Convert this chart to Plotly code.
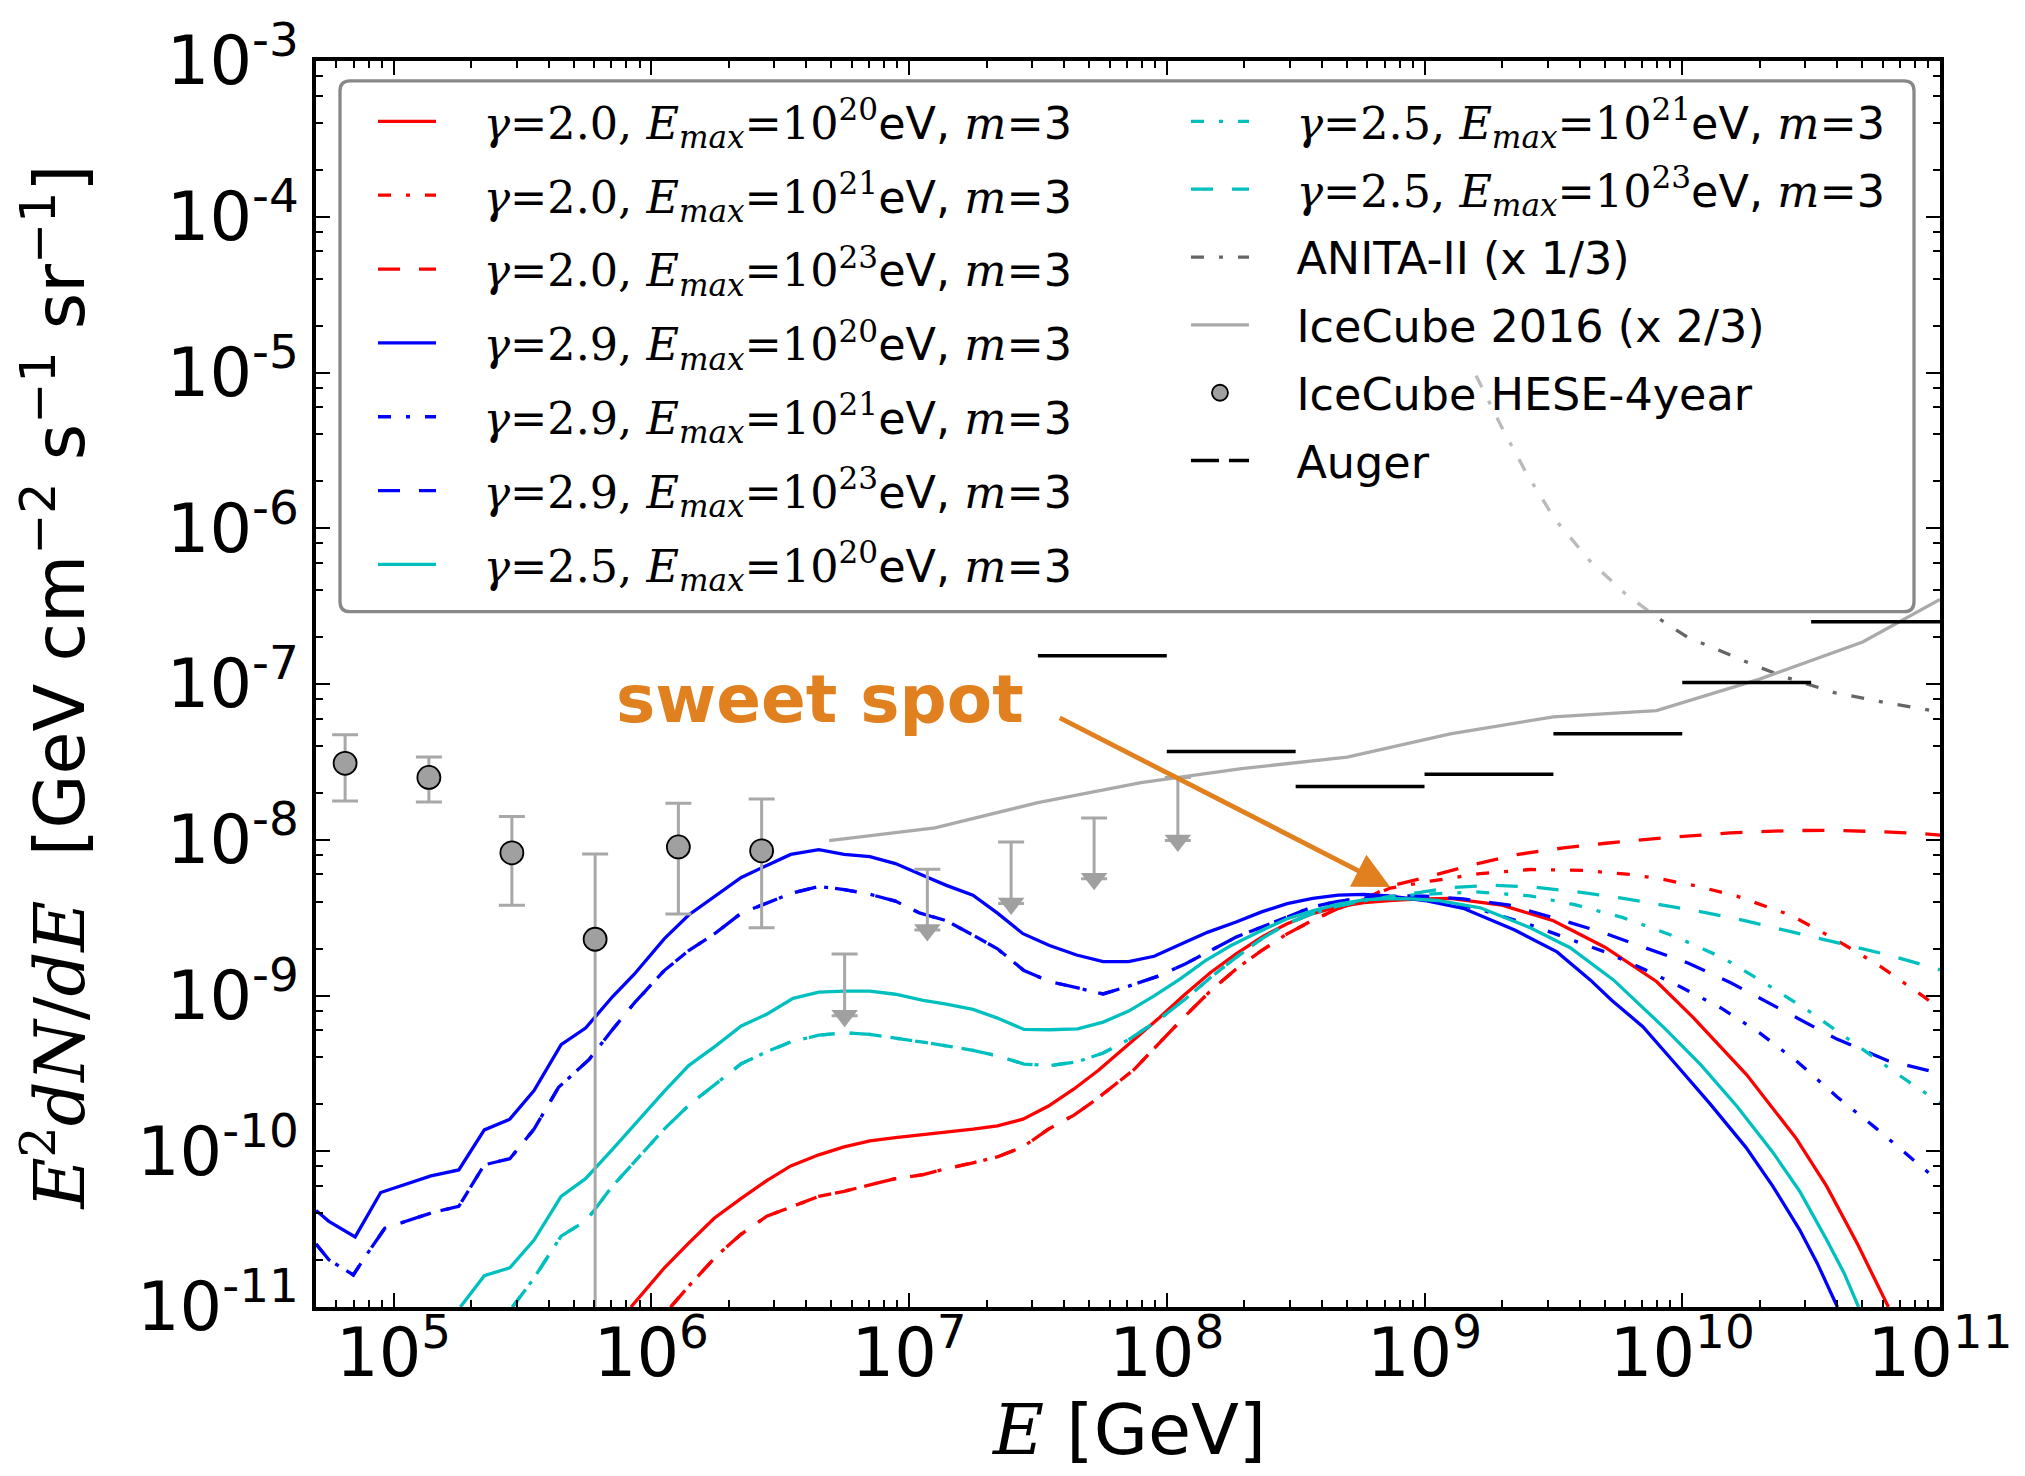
import plotly.graph_objects as go

# ---------------- data (log10 E [GeV], log10 E^2 dN/dE) ----------------
# gamma = 2.0
RED_SOLID_LOGE = [5.921, 6.051, 6.145, 6.244, 6.349, 6.448, 6.541, 6.650, 6.748, 6.848, 6.947, 7.145, 7.248,
                  7.343, 7.442, 7.541, 7.640, 7.735, 7.872, 7.971, 8.071, 8.170, 8.269, 8.368, 8.467, 8.566,
                  8.665, 8.765, 8.864, 8.95, 9.10, 9.30, 9.50, 9.70, 9.90, 10.04, 10.25, 10.44, 10.56, 10.68, 10.80]
RED_SOLID_LOGF = [-11.0, -10.748, -10.590, -10.430, -10.303, -10.188, -10.094, -10.023, -9.972, -9.934, -9.913,
                  -9.878, -9.858, -9.837, -9.794, -9.71, -9.60, -9.48, -9.283, -9.143, -8.992, -8.852, -8.733,
                  -8.625, -8.539, -8.474, -8.431, -8.403, -8.39, -8.382, -8.376, -8.42, -8.52, -8.69, -8.91,
                  -9.137, -9.509, -9.913, -10.224, -10.596, -11.0]
RED_LOW_LOGE = [6.075, 6.154, 6.253, 6.349, 6.448, 6.547, 6.650, 6.748, 6.848, 6.947, 7.055, 7.145, 7.248, 7.343,
                7.442, 7.541, 7.640, 7.724, 7.872, 7.971, 8.071, 8.170, 8.269, 8.368, 8.467, 8.566, 8.665, 8.765]
RED_LOW_LOGF = [-11.0, -10.850, -10.672, -10.532, -10.417, -10.354, -10.290, -10.257, -10.219, -10.176, -10.150,
                -10.112, -10.074, -10.036, -9.972, -9.858, -9.768, -9.67, -9.477, -9.304, -9.132, -8.970, -8.830,
                -8.711, -8.604, -8.517, -8.442, -8.384]
RED_E21_TAIL_LOGE = [8.867, 9.022, 9.216, 9.41, 9.617, 9.798, 9.927, 10.057, 10.212, 10.42, 10.594, 10.767, 10.941, 11.0]
RED_E21_TAIL_LOGF = [-8.31, -8.266, -8.217, -8.191, -8.197, -8.223, -8.255, -8.298, -8.362, -8.484, -8.640, -8.811,
                     -9.012, -9.090]
RED_E23_TAIL_LOGE = [8.867, 9.022, 9.19, 9.358, 9.539, 9.694, 9.927, 10.186, 10.42, 10.594, 10.767, 10.941, 11.0]
RED_E23_TAIL_LOGF = [-8.298, -8.234, -8.159, -8.095, -8.052, -8.024, -7.988, -7.956, -7.941, -7.940, -7.948, -7.962,
                     -7.970]

# gamma = 2.9
BLUE_SOLID_LOGE = [4.699, 4.749, 4.851, 4.950, 5.145, 5.253, 5.352, 5.451, 5.545, 5.650, 5.745, 5.851, 5.933, 6.050,
                   6.145, 6.250, 6.349, 6.448, 6.541, 6.650, 6.748, 6.848, 6.947, 7.055, 7.145, 7.248, 7.343, 7.442,
                   7.545, 7.650, 7.753, 7.852, 7.951, 8.071, 8.160, 8.269, 8.368, 8.467, 8.566, 8.665, 8.765, 8.858,
                   9.0, 9.15, 9.35, 9.514, 9.643, 9.726, 9.847, 9.969, 10.108, 10.247, 10.351, 10.455, 10.524, 10.602]
BLUE_SOLID_LOGF = [-10.38, -10.45, -10.55, -10.265, -10.158, -10.12, -9.863, -9.794, -9.611, -9.316, -9.209, -9.005,
                   -8.865, -8.636, -8.483, -8.356, -8.242, -8.165, -8.094, -8.064, -8.094, -8.109, -8.153, -8.229,
                   -8.293, -8.356, -8.471, -8.603, -8.679, -8.74, -8.783, -8.783, -8.748, -8.658, -8.593, -8.528,
                   -8.463, -8.41, -8.377, -8.356, -8.351, -8.36, -8.39, -8.44, -8.58, -8.72, -8.90, -9.03, -9.20,
                   -9.43, -9.696, -9.975, -10.224, -10.503, -10.720, -11.0]
BLUE_LOW_LOGE = [4.699, 4.749, 4.844, 4.887, 4.966, 5.055, 5.154, 5.253, 5.352, 5.451, 5.545, 5.640, 5.758, 5.848,
                 5.937, 6.050, 6.145, 6.250, 6.349, 6.448, 6.541, 6.650, 6.748, 6.848, 6.947, 7.040, 7.145, 7.248,
                 7.343, 7.446, 7.545, 7.650, 7.753, 7.852, 7.971, 8.071, 8.170, 8.269, 8.368, 8.467, 8.566, 8.665,
                 8.765, 8.864]
BLUE_LOW_LOGF = [-10.595, -10.697, -10.794, -10.684, -10.494, -10.448, -10.392, -10.354, -10.087, -10.048, -9.858,
                 -9.590, -9.412, -9.221, -9.043, -8.840, -8.712, -8.598, -8.471, -8.407, -8.344, -8.30, -8.32, -8.35,
                 -8.394, -8.47, -8.52, -8.612, -8.70, -8.84, -8.91, -8.95, -8.99, -8.94, -8.873, -8.798, -8.711,
                 -8.625, -8.561, -8.496, -8.431, -8.395, -8.373, -8.36]
BLUE_E21_TAIL_LOGE = [9.0, 9.2, 9.4, 9.55, 9.7, 9.85, 10.0, 10.15, 10.3, 10.45, 10.6, 10.75, 10.9, 11.0]
BLUE_E21_TAIL_LOGF = [-8.38, -8.44, -8.54, -8.63, -8.72, -8.83, -8.95, -9.08, -9.24, -9.43, -9.65, -9.85, -10.06, -10.2]
BLUE_E23_TAIL_LOGE = [9.0, 9.15, 9.33, 9.54, 9.7, 9.85, 10.02, 10.19, 10.42, 10.6, 10.8, 11.0]
BLUE_E23_TAIL_LOGF = [-8.362, -8.38, -8.42, -8.52, -8.60, -8.69, -8.79, -8.92, -9.12, -9.28, -9.42, -9.50]

# gamma = 2.5
CYAN_SOLID_LOGE = [5.259, 5.352, 5.451, 5.545, 5.650, 5.745, 5.851, 5.933, 6.050, 6.145, 6.250, 6.349, 6.448, 6.550,
                   6.650, 6.750, 6.848, 6.947, 7.055, 7.145, 7.248, 7.343, 7.446, 7.545, 7.654, 7.753, 7.852, 7.951,
                   8.051, 8.150, 8.249, 8.368, 8.467, 8.566, 8.665, 8.765, 8.864, 8.95, 9.05, 9.216, 9.41, 9.565,
                   9.733, 9.934, 10.073, 10.212, 10.351, 10.455, 10.559, 10.628, 10.684]
CYAN_SOLID_LOGF = [-11.0, -10.799, -10.748, -10.570, -10.290, -10.176, -9.985, -9.832, -9.616, -9.450, -9.323, -9.196,
                   -9.120, -9.018, -8.978, -8.972, -8.972, -8.992, -9.031, -9.056, -9.089, -9.145, -9.218, -9.22,
                   -9.214, -9.171, -9.10, -9.003, -8.895, -8.776, -8.679, -8.582, -8.507, -8.457, -8.413, -8.386,
                   -8.378, -8.38, -8.39, -8.437, -8.565, -8.693, -8.90, -9.214, -9.447, -9.711, -10.006, -10.255,
                   -10.565, -10.783, -11.0]
CYAN_LOW_LOGE = [5.461, 5.541, 5.650, 5.749, 5.848, 5.937, 6.050, 6.145, 6.250, 6.349, 6.448, 6.541, 6.650, 6.748,
                 6.848, 6.947, 7.055, 7.145, 7.248, 7.343, 7.446, 7.545, 7.654, 7.753, 7.852, 7.971, 8.071, 8.170,
                 8.269, 8.368, 8.467, 8.566, 8.665, 8.765, 8.864]
CYAN_LOW_LOGF = [-11.0, -10.824, -10.545, -10.443, -10.226, -10.061, -9.858, -9.705, -9.565, -9.438, -9.361, -9.298,
                 -9.255, -9.24, -9.25, -9.272, -9.30, -9.323, -9.352, -9.387, -9.44, -9.45, -9.425, -9.369, -9.283,
                 -9.153, -9.024, -8.884, -8.755, -8.636, -8.539, -8.474, -8.425, -8.392, -8.365]
CYAN_E21_TAIL_LOGE = [9.0, 9.2, 9.41, 9.59, 9.77, 9.97, 10.16, 10.33, 10.5, 10.67, 10.84, 11.0]
CYAN_E21_TAIL_LOGF = [-8.35, -8.335, -8.36, -8.42, -8.50, -8.62, -8.76, -8.93, -9.11, -9.31, -9.51, -9.69]
CYAN_E23_TAIL_LOGE = [8.97, 9.10, 9.255, 9.423, 9.591, 9.759, 9.927, 10.095, 10.25, 10.42, 10.6, 10.8, 11.0]
CYAN_E23_TAIL_LOGF = [-8.341, -8.308, -8.292, -8.304, -8.334, -8.373, -8.419, -8.469, -8.522, -8.59, -8.66, -8.74,
                      -8.835]

# experiments
ANITA_LOGE = [9.2, 9.305, 9.4, 9.505, 9.642, 9.779, 9.90, 10.02, 10.11, 10.28, 10.39, 10.59, 10.79, 11.0]
ANITA_LOGF = [-5.02, -5.37, -5.66, -5.94, -6.21, -6.42, -6.57, -6.70, -6.76, -6.88, -6.95, -7.055, -7.12, -7.18]
IC16_LOGE = [6.69, 7.10, 7.50, 7.90, 8.29, 8.70, 9.10, 9.50, 9.90, 10.30, 10.70, 11.0]
IC16_LOGF = [-8.006, -7.924, -7.762, -7.633, -7.543, -7.470, -7.320, -7.211, -7.171, -6.969, -6.730, -6.457]
AUGER_LOGE_EDGES = [7.5, 8.0, 8.5, 9.0, 9.5, 10.0, 10.5, 11.0]
AUGER_LOGF = [-6.818, -7.433, -7.658, -7.58, -7.32, -6.99, -6.60]

HESE_LOGE = [4.812, 5.137, 5.459, 5.782, 6.105, 6.428]
HESE_LOGF = [-7.509, -7.60, -8.084, -8.639, -8.046, -8.071]
HESE_LOG_HI = [-7.326, -7.468, -7.85, -8.092, -7.766, -7.738]
HESE_LOG_LO = [-7.751, -7.758, -8.42, -13.0, -8.476, -8.565]
UL_LOGE = [6.75, 7.071, 7.396, 7.718, 8.043]
UL_LOG_LIMIT = [-8.733, -8.190, -8.015, -7.860, -7.601]
UL_LOG_ARROWHEAD = [-9.13, -8.58, -8.41, -8.25, -8.005]

X_TICK_EXP = [5, 6, 7, 8, 9, 10, 11]
Y_TICK_EXP = [-11, -10, -9, -8, -7, -6, -5, -4, -3]

# ---------------- helpers ----------------
def lin(v):
    return [10.0 ** a for a in v]

RED, BLUE, CYAN = "#ff0000", "#0000ff", "#00bfbf"
DASHDOT = "13px,15px,4px,15px"
DASHED = "22px,19px"
SERIF = 'style="font-family:DejaVu Serif"'
PAD = "&nbsp;&nbsp;&nbsp;"


def model_label(g, e):
    return (f'{PAD}<span {SERIF}><i>γ</i>={g}, <i>E</i><sub><i>max</i></sub>=10<sup>{e}</sup></span>eV, '
            f'<span {SERIF}><i>m</i>=</span>3')


fig = go.Figure()


def add_line(xs, ys, color, dash, name, legend, width=3.3):
    fig.add_trace(go.Scatter(x=lin(xs), y=lin(ys), mode="lines", name=name, legend=legend,
                             legendgroup=name, line=dict(color=color, width=width, dash=dash)))


models = [
    (RED_SOLID_LOGE, RED_SOLID_LOGF, RED, "solid", model_label("2.0", 20), "legend"),
    (RED_LOW_LOGE + RED_E21_TAIL_LOGE, RED_LOW_LOGF + RED_E21_TAIL_LOGF, RED, DASHDOT, model_label("2.0", 21), "legend"),
    (RED_LOW_LOGE + RED_E23_TAIL_LOGE, RED_LOW_LOGF + RED_E23_TAIL_LOGF, RED, DASHED, model_label("2.0", 23), "legend"),
    (BLUE_SOLID_LOGE, BLUE_SOLID_LOGF, BLUE, "solid", model_label("2.9", 20), "legend"),
    (BLUE_LOW_LOGE + BLUE_E21_TAIL_LOGE, BLUE_LOW_LOGF + BLUE_E21_TAIL_LOGF, BLUE, DASHDOT, model_label("2.9", 21), "legend"),
    (BLUE_LOW_LOGE + BLUE_E23_TAIL_LOGE, BLUE_LOW_LOGF + BLUE_E23_TAIL_LOGF, BLUE, DASHED, model_label("2.9", 23), "legend"),
    (CYAN_SOLID_LOGE, CYAN_SOLID_LOGF, CYAN, "solid", model_label("2.5", 20), "legend"),
    (CYAN_LOW_LOGE + CYAN_E21_TAIL_LOGE, CYAN_LOW_LOGF + CYAN_E21_TAIL_LOGF, CYAN, DASHDOT, model_label("2.5", 21), "legend2"),
    (CYAN_LOW_LOGE + CYAN_E23_TAIL_LOGE, CYAN_LOW_LOGF + CYAN_E23_TAIL_LOGF, CYAN, DASHED, model_label("2.5", 23), "legend2"),
]
for xs, ys, c, d, n, lg in models:
    add_line(xs, ys, c, d, n, lg)

# ANITA-II
add_line(ANITA_LOGE, ANITA_LOGF, "#666666", DASHDOT, PAD + "ANITA-II (x 1/3)", "legend2", width=3.3)
# IceCube 2016
add_line(IC16_LOGE, IC16_LOGF, "#aaaaaa", "solid", PAD + "IceCube 2016 (x 2/3)", "legend2", width=3.3)

# IceCube HESE points
hese_y = lin(HESE_LOGF)
hese_hi = [h - y for h, y in zip(lin(HESE_LOG_HI), hese_y)]
hese_lo = [y - l for l, y in zip(lin(HESE_LOG_LO), hese_y)]
fig.add_trace(go.Scatter(
    x=lin(HESE_LOGE), y=hese_y, mode="markers", name=PAD + "IceCube HESE-4year", legend="legend2",
    legendgroup="hese",
    marker=dict(size=23, color="#a0a0a0", line=dict(color="black", width=1.8)),
    error_y=dict(type="data", symmetric=False, array=hese_hi, arrayminus=hese_lo,
                 color="#a8a8a8", thickness=3, width=13)))
# upper limits (arrows)
ul_y = lin(UL_LOG_ARROWHEAD)
ul_up = [t - y for t, y in zip(lin(UL_LOG_LIMIT), ul_y)]
fig.add_trace(go.Scatter(
    x=lin(UL_LOGE), y=ul_y, mode="markers", showlegend=False,
    marker=dict(symbol="triangle-down", size=23, color="#a0a0a0", line=dict(width=0)),
    error_y=dict(type="data", symmetric=False, array=ul_up, arrayminus=[0] * len(ul_y),
                 color="#a8a8a8", thickness=3, width=13)))

# Auger segments
ax_, ay_ = [], []
for i, f in enumerate(AUGER_LOGF):
    ax_ += [10 ** AUGER_LOGE_EDGES[i], 10 ** AUGER_LOGE_EDGES[i + 1], None]
    ay_ += [10 ** f, 10 ** f, None]
fig.add_trace(go.Scatter(x=ax_, y=ay_, mode="lines", showlegend=False,
                         line=dict(color="black", width=3.5)))
fig.add_trace(go.Scatter(x=[None], y=[None], mode="lines", name=PAD + "Auger", legend="legend2",
                         legendgroup="auger", line=dict(color="black", width=3.5, dash="28px,10px")))

# ---------------- layout ----------------
tick_font = dict(family="DejaVu Sans", size=67, color="black")
x_minor = [k * 10.0 ** e for e in range(4, 11) for k in range(2, 10) if 5e4 <= k * 10.0 ** e <= 1e11]
y_minor = [k * 10.0 ** e for e in range(-11, -3) for k in (2, 4, 6, 8)]
LEG_FONT = dict(family="DejaVu Sans", size=44.5, color="black")

fig.update_layout(
    width=2025, height=1476,
    margin=dict(l=316, r=85, t=58, b=169),
    plot_bgcolor="white", paper_bgcolor="white",
    font=dict(family="DejaVu Sans", color="black"),
    xaxis=dict(type="log", range=[4.699, 11.0], showgrid=False, zeroline=False,
               showline=True, linecolor="black", linewidth=3.5, mirror="allticks",
               ticks="inside", ticklen=14, tickwidth=2, tickcolor="black",
               tickmode="array", tickvals=[10.0 ** e for e in X_TICK_EXP],
               ticktext=[f"10<sup>{e}</sup>" for e in X_TICK_EXP], tickfont=tick_font,
               ticklabelstandoff=-15,
               minor=dict(tickmode="array", tickvals=x_minor, ticks="inside", ticklen=7,
                          tickwidth=2, tickcolor="black", showgrid=False)),
    yaxis=dict(type="log", range=[-11.0, -3.0], showgrid=False, zeroline=False,
               showline=True, linecolor="black", linewidth=3.5, mirror="allticks",
               ticks="inside", ticklen=14, tickwidth=2, tickcolor="black",
               tickmode="array", tickvals=[10.0 ** e for e in Y_TICK_EXP],
               ticktext=[f"10<sup>{e}</sup>" for e in Y_TICK_EXP], tickfont=tick_font,
               minor=dict(tickmode="array", tickvals=y_minor, ticks="inside", ticklen=7,
                          tickwidth=2, tickcolor="black", showgrid=False)),
    legend=dict(x=0.0351, y=0.980, xanchor="left", yanchor="top", bgcolor="rgba(0,0,0,0)",
                borderwidth=0, font=LEG_FONT, itemwidth=58, tracegroupgap=13, traceorder="grouped"),
    legend2=dict(x=0.5357, y=0.980, xanchor="left", yanchor="top", bgcolor="rgba(0,0,0,0)",
                 borderwidth=0, font=LEG_FONT, itemwidth=58, tracegroupgap=7, traceorder="grouped"),
    showlegend=True,
)

# legend frame (rounded)
x0, x1, y0, y1 = 0.01478, 0.98399, 0.55805, 0.98400
rx, ry = 0.0062, 0.008
path = (f"M{x0 + rx},{y1} L{x1 - rx},{y1} Q{x1},{y1} {x1},{y1 - ry} L{x1},{y0 + ry} Q{x1},{y0} {x1 - rx},{y0} "
        f"L{x0 + rx},{y0} Q{x0},{y0} {x0},{y0 + ry} L{x0},{y1 - ry} Q{x0},{y1} {x0 + rx},{y1} Z")
fig.add_shape(type="path", path=path, xref="paper", yref="paper", layer="above",
              line=dict(color="#888888", width=3.3), fillcolor="rgba(255,255,255,0.55)")

ORANGE = "#E0801F"
fig.add_annotation(x=0.3103, y=0.4876, xref="paper", yref="paper", text="<b>sweet spot</b>",
                   showarrow=False, xanchor="center", yanchor="middle",
                   font=dict(family="DejaVu Sans", size=66, color=ORANGE))
fig.add_annotation(x=8.867, y=-8.304, xref="x", yref="y", text="", showarrow=True,
                   ax=-332, ay=-170, arrowhead=2, arrowsize=1.5, arrowwidth=4.8, arrowcolor=ORANGE, standoff=0)

# axis titles
fig.add_annotation(x=0.5, y=-0.0985, xref="paper", yref="paper", showarrow=False,
                   text=f'<span {SERIF}><i>E</i></span> [GeV]', xanchor="center", yanchor="middle",
                   font=dict(family="DejaVu Sans", size=70, color="black"))
fig.add_annotation(x=-0.1607, y=0.4972, xref="paper", yref="paper", showarrow=False, textangle=-90,
                   text=(f'<span {SERIF}><i>E</i><sup>2</sup><i>dN</i>/<i>dE</i></span>  '
                         f'[GeV cm<sup>−2</sup> s<sup>−1</sup> sr<sup>−1</sup>]'),
                   xanchor="center", yanchor="middle",
                   font=dict(family="DejaVu Sans", size=70, color="black"))

fig.write_html("out.html")
